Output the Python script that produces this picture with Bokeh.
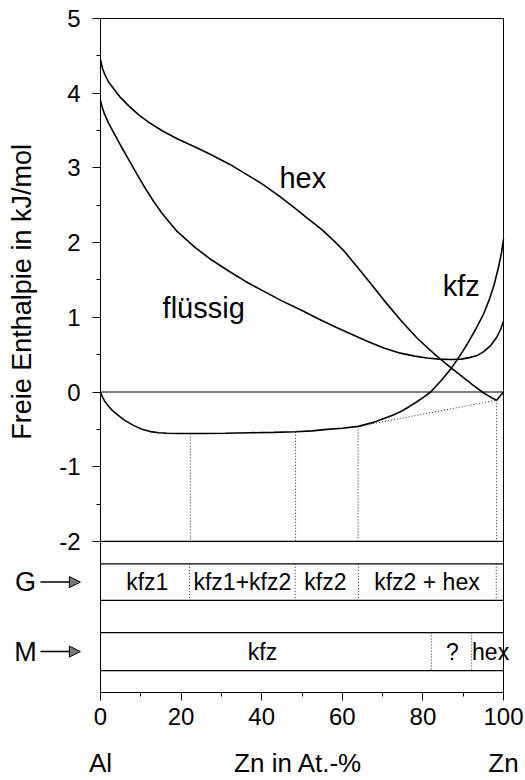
import math
from bokeh.plotting import figure
from bokeh.models import Range1d, FixedTicker, Arrow, NormalHead
from bokeh.embed import file_html
from bokeh.resources import INLINE
from bokeh.core.properties import value

FONT = "Liberation Sans"

# ---- data ----
hex_x = [0, 0.5, 1, 2, 3.7, 5, 7, 9.5, 12, 15.5, 19.4, 23.5, 27.7, 32, 36, 40, 44.2, 48, 51, 55, 58,
         60.4, 63, 66.5, 70.3, 74.5, 78.6, 83, 87.3, 90, 92.6, 95, 97, 98.3, 100]
hex_y = [4.45, 4.33, 4.26, 4.15, 4.03, 3.94, 3.83, 3.71, 3.61, 3.49, 3.38, 3.28, 3.17, 3.05, 2.92, 2.79, 2.63, 2.47, 2.34, 2.17, 2.02,
         1.89, 1.72, 1.49, 1.23, 0.96, 0.72, 0.50, 0.31, 0.195, 0.085, -0.01, -0.075, -0.11, 0.0]

liq_x = [0, 0.5, 1, 2, 3.7, 5.2, 7, 9, 11.2, 13.2, 15.3, 19, 23.6, 27.5, 31.8, 36, 40.1, 45, 50, 54, 57.9,
         62, 66.2, 70.3, 74.4, 78, 81, 84, 87, 89.5, 91.5, 93.5, 95.1, 96.8, 98.4, 99.3, 100]
liq_y = [3.90, 3.80, 3.72, 3.60, 3.43, 3.28, 3.11, 2.92, 2.72, 2.55, 2.39, 2.15, 1.93, 1.77, 1.62, 1.48, 1.36, 1.22, 1.09, 0.98, 0.88,
         0.78, 0.68, 0.59, 0.52, 0.48, 0.455, 0.44, 0.435, 0.44, 0.46, 0.49, 0.54, 0.62, 0.74, 0.84, 0.95]

kfz_x = [0, 0.5, 1, 2, 3, 4.1, 6, 8.3, 10.3, 12.4, 14.5, 16.5, 20, 24.8, 31, 37, 43, 48.4, 52.5, 56.2, 60,
         64, 67.5, 70.3, 72.5, 74.4, 76.5, 78.5, 80.3, 81.9, 84.5, 86.8, 89, 91, 93, 95.1, 96.5, 97.7, 98.8, 99.5, 100]
kfz_y = [0.0, -0.07, -0.12, -0.19, -0.25, -0.30, -0.38, -0.45, -0.50, -0.53, -0.545, -0.552, -0.556, -0.556, -0.552, -0.546, -0.54, -0.532, -0.52, -0.50, -0.485,
         -0.46, -0.41, -0.355, -0.31, -0.265, -0.20, -0.13, -0.065, 0.0, 0.15, 0.30, 0.47, 0.64, 0.83, 1.05, 1.24, 1.44, 1.68, 1.86, 2.05]

tangent_x = [64.0, 98.3]
tangent_y = [-0.46, -0.11]

tie_x = [22.3, 48.4, 63.9, 98.3]
tie_top = [-0.556, -0.532, -0.46, -0.11]
tie_floor = -2.0

hline_y = [0.0, -2.0, -2.3, -2.79, -3.22, -3.73]

g_top, g_bot = -2.3, -2.79
m_top, m_bot = -3.22, -3.73
g_sep_x = [22.1, 48.3, 64.0, 98.2]
m_sep_x = [82.1, 92.1]
g_labels = ["kfz1", "kfz1+kfz2", "kfz2", "kfz2 + hex"]
g_label_x = [11.6, 35.2, 55.8, 81.0]
m_labels = ["kfz", "?", "hex"]
m_label_x = [40.2, 87.3, 96.8]

curve_labels = ["hex", "flüssig", "kfz"]
curve_label_x = [50.2, 25.6, 89.5]
curve_label_y = [2.86, 1.12, 1.42]

x_ticks = [0, 20, 40, 60, 80, 100]
x_minor = [10, 30, 50, 70, 90]
y_ticks = [-2, -1, 0, 1, 2, 3, 4, 5]
y_minor = [-1.5, -0.5, 0.5, 1.5, 2.5, 3.5, 4.5]

X_MIN, X_MAX = 0, 100
Y_MIN, Y_MAX = -4.02, 5

# screen geometry: data x 0..100 -> px 100..503, data y 5..0 -> px 18..391.7
PX_X = 4.03
PX_Y = 74.7
x_lo = X_MIN - 100 / PX_X
x_hi = X_MAX + (525 - 503) / PX_X
y_hi = Y_MAX + 18 / PX_Y
y_lo = Y_MAX - (780 - 18) / PX_Y

p = figure(width=525, height=780, x_range=Range1d(x_lo, x_hi), y_range=Range1d(y_lo, y_hi),
           output_backend="svg", toolbar_location=None,
           min_border_left=0, min_border_right=0, min_border_top=0, min_border_bottom=0)
p.background_fill_color = "white"
p.border_fill_color = "white"
p.xgrid.visible = False
p.ygrid.visible = False
p.outline_line_color = None

p.xaxis.fixed_location = Y_MIN
p.yaxis.fixed_location = X_MIN
p.xaxis.bounds = (X_MIN, X_MAX)
p.yaxis.bounds = (Y_MIN, Y_MAX)
for ax, tk, mn in ((p.xaxis, x_ticks, x_minor), (p.yaxis, y_ticks, y_minor)):
    ax.ticker = FixedTicker(ticks=tk, minor_ticks=mn)
    ax.axis_line_color = "black"
    ax.axis_line_width = 1
    ax.major_tick_line_color = "black"
    ax.minor_tick_line_color = "black"
    ax.major_tick_in = 0
    ax.major_tick_out = 8
    ax.minor_tick_in = 0
    ax.minor_tick_out = 4
    ax.major_label_text_font = FONT
    ax.major_label_text_font_size = "24px"
    ax.major_label_text_color = "black"
p.yaxis.major_label_standoff = 12
p.xaxis.major_label_standoff = 8
p.yaxis.major_label_overrides = {t: str(t) for t in y_ticks}

# frame box (top and right)
p.segment(x0=[X_MIN, X_MAX], y0=[Y_MAX, Y_MIN], x1=[X_MAX, X_MAX], y1=[Y_MAX, Y_MAX],
          line_color="black", line_width=1)

# horizontal lines
p.segment(x0=[X_MIN] * len(hline_y), y0=hline_y, x1=[X_MAX] * len(hline_y), y1=hline_y,
          line_color="black", line_width=1.2)

# curves
for xs, ys in ((hex_x, hex_y), (liq_x, liq_y), (kfz_x, kfz_y)):
    p.line(xs, ys, line_color="black", line_width=1.6)

# dotted tie lines
p.line(tangent_x, tangent_y, line_color="#222222", line_width=1, line_dash="1 2")
p.segment(x0=tie_x, y0=tie_top, x1=tie_x, y1=[tie_floor] * len(tie_x),
          line_color="#222222", line_width=1, line_dash="1 2")
p.segment(x0=g_sep_x, y0=[g_top] * len(g_sep_x), x1=g_sep_x, y1=[g_bot] * len(g_sep_x),
          line_color="#222222", line_width=1, line_dash="1 2")
p.segment(x0=m_sep_x, y0=[m_top] * len(m_sep_x), x1=m_sep_x, y1=[m_bot] * len(m_sep_x),
          line_color="#222222", line_width=1, line_dash="1 2")

# texts
def txt(x, y, t, size, baseline="middle", angle=0.0):
    p.text(x=x, y=y, text=t, text_font=value(FONT), text_font_size=size, angle=angle,
           text_align="center", text_baseline=baseline, text_color="black")

txt(curve_label_x, curve_label_y, curve_labels, "29px", baseline="alphabetic")
txt(g_label_x, [(g_top + g_bot) / 2] * len(g_labels), g_labels, "23px")
txt(m_label_x, [(m_top + m_bot) / 2] * len(m_labels), m_labels, "23px")

txt([-19.4], [1.34], ["Freie Enthalpie in kJ/mol"], "27px", angle=math.pi / 2)
txt([49.1, 0, 100], [-4.97] * 3, ["Zn in At.-%", "Al", "Zn"], "26px")
txt([-18.6, -18.6], [(g_top + g_bot) / 2, (m_top + m_bot) / 2], ["G", "M"], "27px")

for yy in ((g_top + g_bot) / 2, (m_top + m_bot) / 2):
    p.add_layout(Arrow(x_start=-14.9, y_start=yy, x_end=-5.0, y_end=yy, line_color="black", line_width=1.5,
                       end=NormalHead(size=11, fill_color="#777777", line_color="black", line_width=1)))

open("out.html", "w").write(file_html(p, INLINE))
